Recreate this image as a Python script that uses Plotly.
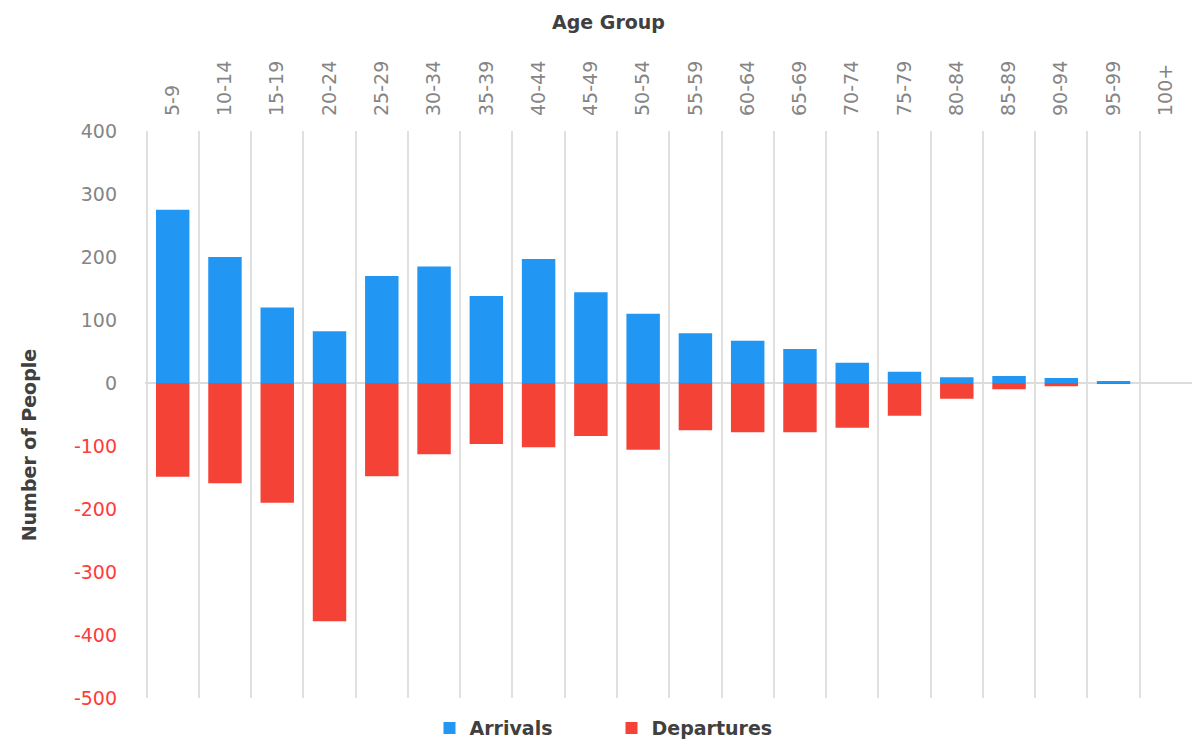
import plotly.graph_objects as go

age_groups = ["5-9", "10-14", "15-19", "20-24", "25-29", "30-34", "35-39", "40-44",
              "45-49", "50-54", "55-59", "60-64", "65-69", "70-74", "75-79", "80-84",
              "85-89", "90-94", "95-99", "100+"]
arrivals = [275, 200, 120, 82, 170, 185, 138, 197, 144, 110, 79, 67, 54, 32, 18, 9, 11, 8, 3, 0]
departures = [-149, -159, -190, -378, -148, -113, -97, -102, -84, -106, -75, -78, -78, -71,
              -52, -25, -10, -5, -1, 0]

y_ticks = [400, 300, 200, 100, 0, -100, -200, -300, -400, -500]

BLUE = "#2196F3"
RED = "#F44336"
FONT = "DejaVu Sans, Verdana, sans-serif"
TITLE_COLOR = "#404040"


def tick_label(v):
    color = "#FF3B3B" if v < 0 else "#858585"
    return f"<span style='color:{color}'>{v}</span>"


fig = go.Figure()
fig.add_trace(go.Bar(x=age_groups, y=arrivals, name="Arrivals", marker_color=BLUE,
                     marker_line_width=0))
fig.add_trace(go.Bar(x=age_groups, y=departures, name="Departures", marker_color=RED,
                     marker_line_width=0))

fig.update_layout(
    width=1192, height=740,
    barmode="relative", bargap=0.36,
    plot_bgcolor="white", paper_bgcolor="white",
    margin=dict(l=145, r=0, t=131, b=42, autoexpand=False),
    font=dict(family=FONT, color="#858585", size=18),
    showlegend=True,
    legend=dict(orientation="h", xref="container", x=0.513, xanchor="center",
                yref="paper", y=-0.053, yanchor="middle",
                font=dict(size=19, color=TITLE_COLOR, family=FONT, weight="bold"),
                itemwidth=30, entrywidth=137, traceorder="normal"),
    annotations=[
        dict(text="<b>Age Group</b>", xref="paper", yref="paper", x=0.443, y=1.192,
             xanchor="center", yanchor="middle", showarrow=False,
             font=dict(size=19, color=TITLE_COLOR, family=FONT)),
        dict(text="<b>Number of People</b>", xref="paper", yref="paper", x=-0.111, y=0.447,
             xanchor="center", yanchor="middle", showarrow=False, textangle=-90,
             font=dict(size=19, color=TITLE_COLOR, family=FONT)),
    ],
)

fig.update_xaxes(
    side="top", type="category", tickangle=-90, tickson="boundaries",
    showgrid=True, gridcolor="#e0e0e0", gridwidth=1.5,
    ticks="", tickfont=dict(size=19, color="#858585"), ticklabelstandoff=14,
    range=[-0.53, 19.5], showline=False, zeroline=False,
)

fig.update_yaxes(
    range=[-500, 400], tickvals=y_ticks, ticktext=[tick_label(v) for v in y_ticks],
    showgrid=False, zeroline=True, zerolinecolor="#dcdcdc", zerolinewidth=1.5,
    ticks="", ticklabelstandoff=27, tickfont=dict(size=19),
    showline=False,
)

fig.write_html("out.html")
